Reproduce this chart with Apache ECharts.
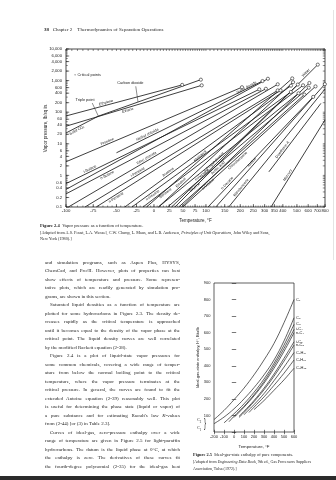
<!DOCTYPE html>
<html><head><meta charset="utf-8">
<script src="https://cdn.jsdelivr.net/npm/echarts@6/dist/echarts.min.js"></script>
<style>
html,body{margin:0;padding:0;background:#fff;}
#page{position:relative;width:336px;height:480px;overflow:hidden;background:#fff;}
#chart{position:absolute;left:0;top:0;width:336px;height:480px;}
.t{position:absolute;white-space:nowrap;color:#1f1f1f;font-family:"Liberation Serif","DejaVu Serif",serif;}
.body{position:absolute;left:45px;top:258.75px;width:135px;font-family:"Liberation Serif",serif;font-size:5px;color:#1f1f1f;}
.body div{height:8.5px;line-height:8.5px;overflow:hidden;text-align:justify;text-align-last:justify;}
.body div.e{text-align-last:left;}
.body div.i{text-indent:5px;}
#bar{position:absolute;left:0;top:476px;width:336px;height:4px;background:#2b2b2b;}
#edge{position:absolute;left:333px;top:10px;width:1px;height:250px;background:#e4e4e4;}
</style></head>
<body><div id="page">
<div id="chart"></div>
<div class="t" style="left:44px;top:26.5px;font-size:5px;"><b>38</b>&nbsp;&nbsp;&nbsp;Chapter 2&nbsp;&nbsp;&nbsp;&nbsp;Thermodynamics of Separation Operations</div>
<div class="t" style="left:40px;top:222.5px;font-size:4.6px;"><b>Figure 2.4</b>&nbsp;&nbsp;Vapor pressure as a function of temperature.</div>
<div class="t" style="left:40px;top:229.5px;font-size:4.2px;">[Adapted from A.S. Foust, L.A. Wenzel, C.W. Clump, L. Maus, and L.B. Andersen, <i>Principles of Unit Operations,</i> John Wiley and Sons,</div>
<div class="t" style="left:40px;top:235.5px;font-size:4.2px;">New York (1980).]</div>
<div class="t" style="left:193px;top:452px;font-size:4.4px;"><b>Figure 2.5</b>&nbsp;&nbsp;Ideal-gas-state enthalpy of pure components.</div>
<div class="t" style="left:193px;top:459px;font-size:4px;">[Adapted from <i>Engineering Data Book,</i> 9th ed., Gas Processors Suppliers</div>
<div class="t" style="left:193px;top:465.5px;font-size:4px;">Association, Tulsa (1972).]</div>
<div class="t" style="left:197px;top:417px;font-size:4.2px;line-height:6.5px;">C<sub style="font-size:3px">2</sub><br>C<sub style="font-size:3px">1</sub></div>
<div class="t" style="left:203px;top:416px;font-size:12px;font-family:'Liberation Sans';transform:scaleX(0.5);">}</div>
<div class="body">
<div>and simulation programs, such as Aspen Plus, HYSYS,</div>
<div>ChemCad, and Pro/II. However, plots of properties can best</div>
<div>show effects of temperature and pressure. Some represen-</div>
<div>tative plots, which are readily generated by simulation pro-</div>
<div class="e">grams, are shown in this section.</div>
<div class="i">Saturated liquid densities as a function of temperature are</div>
<div>plotted for some hydrocarbons in Figure 2.3. The density de-</div>
<div>creases rapidly as the critical temperature is approached</div>
<div>until it becomes equal to the density of the vapor phase at the</div>
<div>critical point. The liquid density curves are well correlated</div>
<div class="e">by the modified Rackett equation (2-38).</div>
<div class="i">Figure 2.4 is a plot of liquid-state vapor pressures for</div>
<div>some common chemicals, covering a wide range of temper-</div>
<div>ature from below the normal boiling point to the critical</div>
<div>temperature, where the vapor pressure terminates at the</div>
<div>critical pressure. In general, the curves are found to fit the</div>
<div>extended Antoine equation (2-39) reasonably well. This plot</div>
<div>is useful for determining the phase state (liquid or vapor) of</div>
<div>a pure substance and for estimating Raoult's law <i>K</i>-values</div>
<div class="e">from (2-44) [or (3) in Table 2.3].</div>
<div class="i">Curves of ideal-gas, zero-pressure enthalpy over a wide</div>
<div>range of temperature are given in Figure 2.5 for light-paraffin</div>
<div>hydrocarbons. The datum is the liquid phase at 0°C, at which</div>
<div>the enthalpy is zero. The derivatives of these curves fit</div>
<div>the fourth-degree polynomial (2-35) for the ideal-gas heat</div>
</div>
<div id="edge"></div>
<div id="bar"></div>
</div>
<script>
// ---------- Figure 2.4 data (temperature °F, vapor pressure psia) ----------
const xTickTemps = [-100,-75,-50,-25,0,25,50,75,100,150,200,250,300,350,400,500,600,700,800];
const yTickVals = [0.1,0.2,0.4,0.6,1,2,4,6,10,20,40,60,100,200,400,600,1000,2000,4000,6000,10000];
const yTickLabels = ['0.1','0.2','0.4','0.6','1','2','4','6','10','20','40','60','100','200','400','600','1,000','2,000','4,000','6,000','10,000'];

const substances = ['Ethylene','Ethane','Carbon dioxide','Solid CO₂','Propane','Methyl chloride','i-Butane','n-Butane','Sulfur dioxide','Ethyl chloride','i-Pentane','n-Pentane','Acetone','n-Hexane','Benzene','Methanol','Ethanol','n-Heptane','Toluene','n-Propyl alcohol','Water','n-Octane','Acetic acid','Chlorobenzene','n-Decane','Aniline','Nitrobenzene','Dowtherm A','Mercury'];
const tStart = [-100,-100,-69.8,-100,-100,-50,-100,-100,-100,-98,-83,-72,-40,-31,-16,-11,7,7,22,29,35,42,47,50,105,125,162,321,332];
const pStart = [76,36,75,22,2.7,5.2,0.55,0.26,0.36,0.1,0.1,0.1,0.1,0.1,0.1,0.1,0.1,0.1,0.1,0.1,0.1,0.1,0.1,0.1,0.1,0.1,0.1,1.3,0.1];
const tEnd   = [48.6,90,88,-69.8,206,290,275,306,316,369,369,386,455,454,552,464,470,513,606,507,705,564,612,678,652,798,800,744,800];
const pEnd   = [731,708,1070,75,617,968,529,551,1143,764,490,489,691,437,710,1174,891,397,596,750,3200,361,840,656,305,770,540,190,57];
const isCritical = [1,1,1,0,1,1,1,1,1,1,1,1,1,1,1,1,1,1,1,1,1,1,1,1,1,1,0,0,0];
const labelFrac = [0.35,0.45,-1,0.3,0.24,0.22,0.13,0.2,0.9,0.38,0.28,0.1,0.27,0.12,0.13,0.38,0.18,0.3,0.18,0.35,0.93,0.22,0.3,0.4,0.2,0.35,0.15,0.3,0.35];
const labelSide = [1,-1,1,-1,1,1,1,-1,1,1,1,-1,1,-1,-1,1,1,-1,-1,1,1,-1,1,-1,1,1,1,1,1];

const noteText = ['○ Critical points','Triple point','Carbon dioxide'];
const noteT = [-93,-83,-33];
const noteP = [1500,240,840];
const leaderFromT = [-76,-26]; const leaderFromP = [195,660];
const leaderToT = [-69.8,-23]; const leaderToP = [75,212];

// ---------- Figure 2.5 data (temperature °F, enthalpy Btu/lb) ----------
const igNames = ['C₁','C₂','C₃','i-C₄','n-C₄','i-C₅','n-C₅','C₆H₁₄','C₇H₁₆','C₈H₁₈'];
const igT_C1 = [-200,-100,0,100,200,300,400,500,600]; const igH_C1 = [75,130,195,265,345,435,535,660,800];
const igT_C2 = [-200,-100,0,100,200,300,400,500,600]; const igH_C2 = [50,90,140,200,268,345,435,550,690];
const igT_C3 = [-100,0,100,200,300,400,500,600]; const igH_C3 = [55,110,170,240,320,415,525,650];
const igT_iC4 = [-50,0,100,200,300,400,500,600]; const igH_iC4 = [62,95,155,225,305,400,505,620];
const igT_nC4 = [0,100,200,300,400,500,600]; const igH_nC4 = [88,150,218,295,385,487,600];
const igT_iC5 = [50,100,200,300,400,500,600]; const igH_iC5 = [95,125,190,265,350,445,545];
const igT_nC5 = [50,100,200,300,400,500,600]; const igH_nC5 = [88,118,183,255,337,428,525];
const igT_C6 = [100,200,300,400,500,600]; const igH_C6 = [105,165,232,310,392,480];
const igT_C7 = [150,200,300,400,500,600]; const igH_C7 = [118,150,212,282,355,435];
const igT_C8 = [200,300,400,500,600]; const igH_C8 = [135,190,252,315,385];
const igT = [igT_C1,igT_C2,igT_C3,igT_iC4,igT_nC4,igT_iC5,igT_nC5,igT_C6,igT_C7,igT_C8];
const igH = [igH_C1,igH_C2,igH_C3,igH_iC4,igH_nC4,igH_iC5,igH_nC5,igH_C6,igH_C7,igH_C8];

// ---------- rendering ----------
const SANS = 'Liberation Sans';
const INK = '#1c1c1c';
const TF = t => -100000 / (t + 389);   // Cox-chart temperature scale

const topMinor = [];
for (let t = -100; t < 100; t += 5) topMinor.push(t);
for (let t = 100; t < 400; t += 10) topMinor.push(t);
for (let t = 400; t <= 800; t += 20) topMinor.push(t);
const logMinor = [];
for (let e = -1; e <= 3; e++) for (let k = 1; k <= 9; k++) logMinor.push(+(k * Math.pow(10, e)).toPrecision(3));
logMinor.push(10000);

const series = [];
substances.forEach((name, i) => {
  series.push({
    type: 'line', xAxisIndex: 0, yAxisIndex: 0, silent: true, animation: false,
    showAllSymbol: true, symbolSize: 3.2,
    lineStyle: { color: INK, width: 0.85 },
    itemStyle: { color: '#fff', borderColor: INK, borderWidth: 0.6 },
    data: [
      { value: [TF(tStart[i]), pStart[i]], symbol: 'none' },
      { value: [TF(tEnd[i]), pEnd[i]], symbol: isCritical[i] ? 'circle' : 'none' }
    ]
  });
});
leaderFromT.forEach((t, i) => {
  series.push({ type: 'line', xAxisIndex: 0, yAxisIndex: 0, silent: true, animation: false, symbol: 'none',
    lineStyle: { color: INK, width: 0.5 },
    data: [[TF(t), leaderFromP[i]], [TF(leaderToT[i]), leaderToP[i]]] });
});
series.push({
  type: 'custom', xAxisIndex: 0, yAxisIndex: 0, silent: true, animation: false, clip: false,
  data: xTickTemps.map((t, i) => [TF(t), 0.1, i]),
  renderItem: (params, api) => {
    const p = api.coord([api.value(0), api.value(1)]);
    return { type: 'group', children: [
      { type: 'line', shape: { x1: p[0], y1: p[1], x2: p[0], y2: p[1] - 3 }, style: { stroke: INK, lineWidth: 0.6 } },
      { type: 'text', x: p[0], y: p[1] + 1.5, style: { text: String(xTickTemps[api.value(2)]), fontSize: 4.3, fontFamily: SANS, fill: INK, align: 'center', verticalAlign: 'top' } }
    ] };
  }
});
series.push({
  type: 'custom', xAxisIndex: 0, yAxisIndex: 0, silent: true, animation: false, clip: false,
  data: topMinor.map(t => [TF(t), 10000, 0.1]),
  renderItem: (params, api) => {
    const p = api.coord([api.value(0), api.value(1)]);
    const q = api.coord([api.value(0), api.value(2)]);
    return { type: 'group', children: [
      { type: 'line', shape: { x1: p[0], y1: p[1], x2: p[0], y2: p[1] + 2 }, style: { stroke: INK, lineWidth: 0.5 } },
      { type: 'line', shape: { x1: q[0], y1: q[1], x2: q[0], y2: q[1] - 1.5 }, style: { stroke: INK, lineWidth: 0.5 } }
    ] };
  }
});
series.push({
  type: 'custom', xAxisIndex: 0, yAxisIndex: 0, silent: true, animation: false, clip: false,
  data: logMinor.map(v => [TF(-100), v, TF(800)]),
  renderItem: (params, api) => {
    const p = api.coord([api.value(0), api.value(1)]);
    const q = api.coord([api.value(2), api.value(1)]);
    return { type: 'group', children: [
      { type: 'line', shape: { x1: p[0], y1: p[1], x2: p[0] + 1.8, y2: p[1] }, style: { stroke: INK, lineWidth: 0.5 } },
      { type: 'line', shape: { x1: q[0], y1: q[1], x2: q[0] - 2.2, y2: q[1] }, style: { stroke: INK, lineWidth: 0.5 } }
    ] };
  }
});
series.push({
  type: 'custom', xAxisIndex: 0, yAxisIndex: 0, silent: true, animation: false, clip: false,
  data: yTickVals.map((v, i) => [TF(-100), v, i]),
  renderItem: (params, api) => {
    const p = api.coord([api.value(0), api.value(1)]);
    return { type: 'group', children: [
      { type: 'line', shape: { x1: p[0], y1: p[1], x2: p[0] + 3.2, y2: p[1] }, style: { stroke: INK, lineWidth: 0.6 } },
      { type: 'text', x: p[0] - 4, y: p[1], style: { text: yTickLabels[api.value(2)], fontSize: 4.2, fontFamily: SANS, fill: INK, align: 'right', verticalAlign: 'middle' } }
    ] };
  }
});
series.push({
  type: 'custom', xAxisIndex: 0, yAxisIndex: 0, silent: true, animation: false, clip: false,
  data: substances.map((n, i) => [TF(tStart[i]), pStart[i], TF(tEnd[i]), pEnd[i], labelFrac[i], labelSide[i], i]).filter(d => d[4] >= 0),
  renderItem: (params, api) => {
    const a = api.coord([api.value(0), api.value(1)]);
    const b = api.coord([api.value(2), api.value(3)]);
    const f = api.value(4), side = api.value(5);
    const ang = Math.atan2(a[1] - b[1], b[0] - a[0]);
    const x = a[0] + (b[0] - a[0]) * f, y = a[1] + (b[1] - a[1]) * f;
    const off = 0.6 * side;
    return { type: 'text', x: x - Math.sin(ang) * off, y: y - Math.cos(ang) * off, rotation: ang,
      style: { text: substances[api.value(6)], fontSize: 3.7, fontFamily: SANS, fill: INK, align: 'center', verticalAlign: side > 0 ? 'bottom' : 'top' } };
  }
});
series.push({
  type: 'custom', xAxisIndex: 0, yAxisIndex: 0, silent: true, animation: false, clip: false,
  data: noteText.map((s, i) => [TF(noteT[i]), noteP[i], i]),
  renderItem: (params, api) => {
    const p = api.coord([api.value(0), api.value(1)]);
    const i = api.value(2);
    return { type: 'text', x: p[0], y: p[1], style: { text: noteText[i], fontSize: 3.9, fontFamily: SANS, fill: INK, align: i === 0 ? 'left' : 'center', verticalAlign: 'middle' } };
  }
});
igNames.forEach((n, i) => {
  series.push({
    type: 'line', xAxisIndex: 1, yAxisIndex: 1, silent: true, animation: false, smooth: 0.4, symbol: 'none', name: n,
    lineStyle: { color: INK, width: 0.7 },
    data: igT[i].map((t, j) => [t, igH[i][j]]),
    endLabel: { show: true, formatter: n, fontSize: 4, fontFamily: SANS, color: INK, distance: 2 }
  });
});

const option = {
  backgroundColor: '#fff',
  animation: false,
  grid: [
    { left: 66, top: 49, width: 259, height: 158, show: true, borderColor: INK, borderWidth: 0.8, backgroundColor: 'transparent' },
    { left: 214, top: 283, width: 80, height: 149, show: true, borderColor: INK, borderWidth: 0.7, backgroundColor: 'transparent' }
  ],
  xAxis: [
    { gridIndex: 0, type: 'value', min: TF(-100), max: TF(800), axisLine: { show: false }, axisTick: { show: false }, axisLabel: { show: false }, splitLine: { show: false },
      name: 'Temperature, °F', nameLocation: 'middle', nameGap: 11, nameTextStyle: { fontSize: 4.5, fontFamily: SANS, color: INK } },
    { gridIndex: 1, type: 'value', min: -200, max: 600, interval: 100, axisLine: { show: false },
      axisTick: { inside: true, length: 2.2, lineStyle: { color: INK, width: 0.6 } },
      axisLabel: { fontSize: 4, fontFamily: SANS, color: INK, margin: 3 }, splitLine: { show: false },
      name: 'Temperature, °F', nameLocation: 'middle', nameGap: 13, nameTextStyle: { fontSize: 4.3, fontFamily: SANS, color: INK } },
    { gridIndex: 1, type: 'value', position: 'top', min: -200, max: 600, interval: 100, axisLine: { show: false },
      axisTick: { inside: true, length: 2.2, lineStyle: { color: INK, width: 0.6 } }, axisLabel: { show: false }, splitLine: { show: false } }
  ],
  yAxis: [
    { gridIndex: 0, type: 'log', logBase: 10, min: 0.1, max: 10000, axisLine: { show: false }, axisTick: { show: false }, axisLabel: { show: false }, splitLine: { show: false },
      name: 'Vapor pressure, lb/sq in.', nameLocation: 'middle', nameGap: 18, nameRotate: 90, nameTextStyle: { fontSize: 4.5, fontFamily: SANS, color: INK } },
    { gridIndex: 1, type: 'value', min: 0, max: 900, interval: 100, axisLine: { show: false },
      axisTick: { inside: true, length: 2.2, lineStyle: { color: INK, width: 0.6 } },
      axisLabel: { fontSize: 4, fontFamily: SANS, color: INK, margin: 3.5, formatter: v => v === 0 ? '' : String(v) }, splitLine: { show: false },
      name: 'Ideal-gas-state enthalpy, H°, Btu/lb', nameLocation: 'middle', nameGap: 12, nameRotate: 90, nameTextStyle: { fontSize: 4, fontFamily: SANS, color: INK } },
    { gridIndex: 1, type: 'value', position: 'right', min: 0, max: 900, interval: 100, axisLine: { show: false },
      axisTick: { inside: true, length: 2.2, lineStyle: { color: INK, width: 0.6 } }, axisLabel: { show: false }, splitLine: { show: false } }
  ],
  series: series
};
const chart = echarts.init(document.getElementById('chart'), null, { renderer: 'canvas' });
chart.setOption(option);
</script>
</body></html>
